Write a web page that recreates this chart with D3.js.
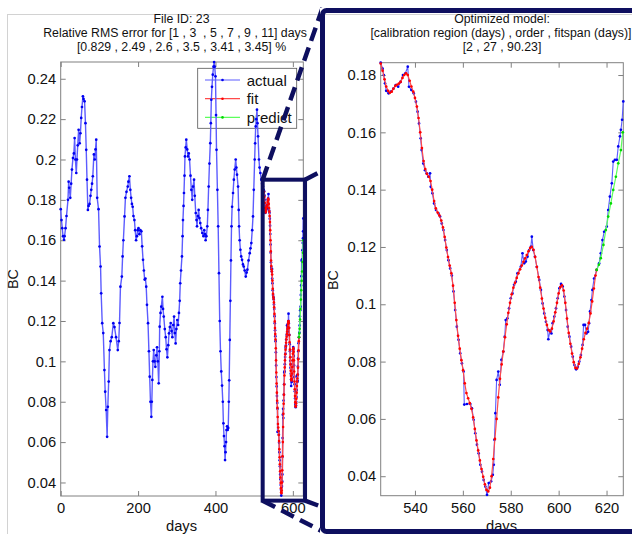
<!DOCTYPE html>
<html><head><meta charset="utf-8">
<script src="https://cdn.jsdelivr.net/npm/d3@7"></script>
<style>
html,body{margin:0;padding:0;background:#fff;}
svg{display:block;font-family:"Liberation Sans",Arial,Helvetica,sans-serif;}
text{white-space:pre;}
</style></head><body>
<svg id="c" width="632" height="534"></svg>
<script>
// ---------------- data ----------------
const actualDays = [0,2,4,6,8.5,10,12.5,15,18.8,20.5,22,24.8,27,29,31.7,34,36,38,40.3,42,44,46.3,49,51,53,55,57.4,59,61.7,64,66,68,70.3,72,74.6,77,79,81,83,85.8,88,90,91.8,94.3,97.8,100.4,103,104.6,107.3,110,113,115,117.5,120,121.8,124,126,129,132,136,139,143,147.5,150,152,154.4,158,160,162,165,167.3,170,173.3,175,177.6,180,182,184,186,188,190.5,192.5,194.8,197,199,201,203.4,206,208.5,210.5,212.8,215,217,219,221,223,225.7,228,230,232,234.3,235.5,236.9,238.5,240.4,242.5,244.6,247,249,251,253.3,255,255.8,258,260,262.8,264.5,266.3,269,271.4,273.5,275.7,278,280,282,284.3,286.5,288.6,291,293,295,297,299,301.3,303.5,305.6,307.5,309,311,313.4,315,316,317.5,318.6,320,321.2,323,324.6,327,329,331,333,335.5,337.6,340,342,344.6,346.5,349,351,352.3,354.5,356.5,358.5,360.8,363,366,369,371,373,374.6,376.5,378.9,380.5,382.4,384.5,386.7,388,389.3,391,393,395,396.5,398,400,401.5,402.7,405,407,409,411,413,415,417,419,420.5,422,423.5,424.8,426,427.4,428.5,430,431.5,433,434.5,435.5,437,438.5,440,441.5,443,445.4,447.5,449.7,452.3,454,455.7,458.4,460,461,462.5,464.4,466.5,468.7,471,473,475.5,478.3,480.5,482.5,485.5,488.5,490.5,492.7,495,497,499,501.3,502.5,504,505.5,507.3,508.5,510,512.4,514,516,518.4,520.5,522.7,524.5,
525.7,526.5,527,527.5,528,529,530,531,532,533,534,535,536,537,537.5,538.5,539.5,540.4,541.1,541.7,542.4,542.8,543.5,544.2,544.9,545.6,546.3,546.6,547.3,548,548.8,549.8,550.5,551.2,551.9,552.6,553.3,554,554.7,555.4,556.1,556.8,557.5,558.2,558.9,559.6,560.3,560.6,561.7,563.1,563.8,564.5,565.2,565.9,566.6,567.3,568,568.7,569.4,570.1,570.8,571.8,572.5,572.9,573.2,573.6,574.1,574.8,575.4,576.1,576.9,577.5,577.9,578.6,579.3,580,580.7,581.4,582.1,582.8,584.2,584.9,585.6,586.3,587,587.7,588.4,588.8,589.4,590.1,590.9,591.9,592.6,593.3,594,594.7,595.4,595.7,596.4,597,597.5,598.2,598.9,599.6,600.3,601,601.7,602.4,603.1,603.8,604.5,605.2,605.9,606.6,607.3,608,608.6,609.3,610,610.4,611,611.6,612.3,612.7,613.1,613.7,614.1,614.8,615.9,616.9,617.6,618.3,619,620.1,620.7,621.4,622.2,622.8,623.5,624.3,624.9,625.6,626,626.5,627];
const actualBC = [.1754,.170,.166,.162,.1602,.162,.166,.172,.180,.189,.186,.181,.188,.195,.2007,.203,.2106,.200,.1933,.200,.207,.2147,.208,.213,.2206,.226,.2313,.230,.2288,.218,.2048,.190,.175,.177,.178,.182,.185,.188,.1917,.2025,.200,.205,.2098,.181,.1754,.1569,.147,.1337,.1189,.114,.0957,.085,.0759,.0626,.0775,.090,.1056,.110,.112,.1189,.117,.112,.1056,.110,.119,.137,.142,.152,.160,.1718,.181,.184,.1866,.189,.1917,.185,.181,.178,.1766,.172,.170,.165,.160,.162,.165,.166,.163,.165,.1644,.157,.1503,.145,.1405,.141,.137,.128,.1189,.105,.0924,.080,.0725,.080,.0908,.100,.1056,.100,.0973,.103,.107,.100,.0891,.105,.1172,.124,.1271,.132,.126,.1222,.116,.112,.106,.102,.108,.1139,.117,.119,.115,.112,.118,.1222,.114,.1089,.116,.1205,.118,.124,.130,.1387,.145,.152,.162,.170,.177,.1834,.192,.2015,.206,.2098,.205,.2015,.203,.200,.192,.185,.180,.1866,.190,.182,.1735,.170,.1669,.172,.175,.171,.1685,.166,.1636,.162,.165,.163,.160,.162,.1669,.175,.1866,.198,.2081,.218,.2296,.236,.242,.246,.2483,.246,.2412,.222,.2048,.185,.1669,.1437,.120,.105,.095,.088,.080,.0693,.063,.058,.0511,.055,.060,.066,.0678,.066,.067,.080,.0906,.1106,.130,.150,.1669,.1766,.1834,.190,.195,.200,.196,.1925,.1866,.175,.1669,.160,.1553,.152,.1503,.148,.147,.145,.142,.144,.1454,.150,.1536,.156,.1586,.165,.1718,.185,.200,.208,.2164,.220,.2247,.218,.2115,.200,.196,.1933,.190,.188,.1866,.185,
.1843,.1822,.1800,.1771,.1745,.1736,.1742,.1753,.1765,.1759,.1776,.1800,.1806,.1829,.1759,.1748,.1736,.1707,.1672,.1631,.1579,.1538,.1491,.1468,.1457,.1445,.1457,.1410,.1387,.1352,.1329,.1317,.1306,.1282,.1259,.1224,.1189,.1154,.1125,.1100,.1045,.0980,.0922,.0876,.0829,.0794,.0765,.0650,.0652,.0652,.0637,.0597,.0550,.0510,.0480,.0440,.0416,.0387,.0364,.0335,.0376,.0382,.0405,.0440,.0527,.0620,.0736,.0765,.0719,.0806,.0835,.0887,.0945,.0951,.0986,.1021,.1038,.1068,.1079,.1108,.1131,.1178,.1143,.1149,.1166,.1189,.1200,.1236,.1189,.1166,.1131,.1085,.1050,.1003,.0968,.0939,.0910,.0878,.0908,.0898,.0934,.0957,.0986,.1021,.1056,.1071,.1062,.1027,.0980,.0922,.0887,.0852,.0817,.0788,.0773,.0782,.0800,.0823,.0858,.0928,.0928,.0898,.0904,.0934,.0975,.1015,.1050,.1090,.1120,.1143,.1178,.1224,.1253,.1271,.1329,.1376,.1422,.1498,.1504,.1504,.1551,.1586,.1609,.1644,.1708];

const fitDays = [525.7,526.5,527.3,528,528.8,529.5,530.3,531,531.8,532.5,533.3,534,534.8,535.5,536.3,537,537.8,538.5,539.3,540,540.8,541.5,542.2,542.9,543.6,544.3,545,545.8,546.5,547.2,548,548.7,549.5,550.2,551,551.7,552.4,553.1,553.8,554.5,555.2,555.9,556.6,557.3,558,558.7,559.4,560.1,560.8,561.5,562.2,562.9,563.6,564.3,565,565.7,566.4,567.1,567.8,568.5,569.2,569.9,570.6,571.3,572,572.7,573.4,574.1,574.8,575.5,576.2,576.9,577.6,578.3,579,579.7,580.4,581.1,581.8,582.5,583.2,583.9,584.6,585.3,586,586.7,587.4,588.1,588.8,589.5,590.2,590.9,591.6,592.3,593,593.7,594.4,595.1,595.8,596.5,597.2,597.9,598.6,599.3,600,600.7,601.4,602.1,602.8,603.5,604.2,604.9,605.6,606.3,607,607.7,608.4,609.1,609.8,610.5,611.2,611.9,612.6,613.3,614,614.7,615.4,615.9];
const fitBC = [.1840,.1815,.1785,.1760,.1745,.1738,.1742,.1752,.1762,.1766,.1770,.1776,.1790,.1800,.1806,.1800,.1780,.1760,.1742,.1720,.1690,.1650,.1600,.1545,.1500,.1472,.1455,.1445,.1430,.1400,.1360,.1335,.1320,.1310,.1292,.1268,.1235,.1198,.1165,.1135,.1108,.1065,.1005,.0945,.0890,.0845,.0805,.0770,.0724,.0690,.0672,.0655,.0635,.0605,.0565,.0525,.0490,.0455,.0425,.0398,.0372,.0352,.0347,.0360,.0400,.0460,.0530,.0600,.0675,.0740,.0790,.0835,.0885,.0930,.0970,.1005,.1035,.1058,.1075,.1092,.1108,.1122,.1135,.1148,.1160,.1172,.1185,.1196,.1200,.1190,.1165,.1130,.1095,.1058,.1020,.0985,.0953,.0928,.0910,.0905,.0915,.0940,.0972,.1005,.1038,.1060,.1066,.1048,.1005,.0950,.0900,.0862,.0828,.0798,.0778,.0776,.0792,.0815,.0845,.0878,.0900,.0915,.0935,.0968,.1010,.1055,.1100,.1120];

const predictDays = [615.9,616.8,617.6,618.7,619.7,620.7,621.8,622.8,623.9,624.9,626,626.8];
const predictBC = [.1120,.1138,.1161,.1207,.1259,.1306,.1352,.1399,.1445,.1492,.1538,.1600];

const mainXTicks = [0,200,400,600];
const mainYTicks = [0.04,0.06,0.08,0.1,0.12,0.14,0.16,0.18,0.2,0.22,0.24];
const insetXTicks = [540,560,580,600,620];
const insetYTicks = [0.04,0.06,0.08,0.1,0.12,0.14,0.16,0.18];
const zoomBoxDays = [522, 631.5];
const zoomBoxBC = [0.031, 0.19];

const mainTitle = ["File ID: 23", "Relative RMS error for [1 , 3  , 5 , 7 , 9 , 11] days", "[0.829 , 2.49 , 2.6 , 3.5 , 3.41 , 3.45] %"];
const insetTitle = ["Optimized model:", "[calibration region (days) , order , fitspan (days)]", "[2 , 27 , 90.23]"];
const legendLabels = ["actual", "fit", "predict"];

// ---------------- drawing ----------------
const svg = d3.select('#c');
const FONT = '"Liberation Sans",Arial,Helvetica,sans-serif';
const navy = '#0e0f5f';
const axisGray = '#808080';
const colors = {
  actual: {line:'#5c5cff', dot:'#0000f0'},
  fit: {line:'#ff4a4a', dot:'#ff0000'},
  predict: {line:'#5cff5c', dot:'#00d800'}
};

// left figure light frame
svg.append('rect').attr('x',7.5).attr('y',14.5).attr('width',360).attr('height',560)
  .attr('fill','none').attr('stroke','#d2d2d2');

const mainX = d3.scaleLinear().domain([0,627]).range([60.7,303.3]);
const mainY = d3.scaleLinear().domain([0.0333,0.2483]).range([496,62]);
const insX = d3.scaleLinear().domain([525.7,627]).range([380.7,623.3]);
const insY = d3.scaleLinear().domain([0.0332,0.1843]).range([495.7,62.7]);

const fmt = d => String(+(+d).toFixed(2));

function axes(g, xs, ys, xt, yt) {
  const [x0,x1] = xs.range(), [y0,y1] = ys.range();
  g.append('g').attr('transform',`translate(${x0},0)`)
    .call(d3.axisLeft(ys).tickValues(yt).tickSize(-5).tickPadding(4.5).tickFormat(fmt));
  g.append('g').attr('transform',`translate(${x1},0)`)
    .call(d3.axisRight(ys).tickValues(yt).tickSize(-5).tickFormat(''));
  g.append('g').attr('transform',`translate(0,${y0})`)
    .call(d3.axisBottom(xs).tickValues(xt).tickSize(-5).tickPadding(7).tickFormat(fmt));
  g.append('g').attr('transform',`translate(0,${y1})`)
    .call(d3.axisTop(xs).tickValues(xt).tickSize(-5).tickFormat(''));
  g.selectAll('.domain').remove();
  g.selectAll('.tick line').attr('stroke',axisGray);
  g.selectAll('.tick text').attr('font-size',14.7).attr('font-family',FONT).attr('fill','#111');
  g.append('rect').attr('x',x0).attr('y',y1).attr('width',x1-x0).attr('height',y0-y1)
    .attr('fill','none').attr('stroke',axisGray);
}

function series(g, xs, ys, days, vals, c, lw, r) {
  const line = d3.line().x((d,i)=>xs(days[i])).y(d=>ys(d));
  g.append('path').datum(vals).attr('d',line).attr('fill','none')
    .attr('stroke',c.line).attr('stroke-width',lw).attr('stroke-linejoin','round');
  g.append('g').selectAll('circle').data(vals).join('circle')
    .attr('cx',(d,i)=>xs(days[i])).attr('cy',d=>ys(d)).attr('r',r).attr('fill',c.dot);
}

function titles(lines, xs, y0) {
  lines.forEach((t,i)=>{
    svg.append('text').attr('x',xs[i]).attr('y',y0 + i*13.9).attr('text-anchor','middle')
      .attr('font-size',12.3).attr('font-family',FONT).attr('fill','#111').text(t);
  });
}

// ---- main panel ----
const gMain = svg.append('g');
axes(gMain, mainX, mainY, mainXTicks, mainYTicks);
titles(mainTitle, [181.5, 175, 181.5], 23.3);
gMain.append('text').attr('x',181.5).attr('y',530.5).attr('text-anchor','middle')
  .attr('font-size',14.7).attr('font-family',FONT).attr('fill','#111').text('days');
gMain.append('text').attr('transform','translate(18.3,279) rotate(-90)').attr('text-anchor','middle')
  .attr('font-size',14.4).attr('font-family',FONT).attr('fill','#111').text('BC');

// legend (drawn below the data)
const leg = gMain.append('g');
leg.append('rect').attr('x',197.7).attr('y',68.3).attr('width',99).attr('height',60)
  .attr('fill','#fff').attr('stroke','#555').attr('stroke-width',0.8);
[colors.actual, colors.fit, colors.predict].forEach((c,i)=>{
  const yy = 80 + i*18.7;
  leg.append('line').attr('x1',205).attr('x2',240).attr('y1',yy).attr('y2',yy).attr('stroke',c.line).attr('stroke-width',1.2);
  leg.append('circle').attr('cx',222.5).attr('cy',yy).attr('r',1.3).attr('fill',c.dot);
  leg.append('text').attr('x',246.7).attr('y',yy+5.5).attr('font-size',15).attr('font-family',FONT)
    .attr('fill','#111').text(legendLabels[i]);
});

series(gMain, mainX, mainY, actualDays, actualBC, colors.actual, 1.4, 1.35);
series(gMain, mainX, mainY, fitDays, fitBC, colors.fit, 1.4, 1.3);
series(gMain, mainX, mainY, predictDays, predictBC, colors.predict, 1.4, 1.3);

// zoom box
const bx0 = mainX(zoomBoxDays[0]), bx1 = mainX(zoomBoxDays[1]);
const by0 = mainY(zoomBoxBC[1]), by1 = mainY(zoomBoxBC[0]);
gMain.append('rect').attr('x',bx0).attr('y',by0).attr('width',bx1-bx0).attr('height',by1-by0)
  .attr('fill','none').attr('stroke',navy).attr('stroke-width',4);

// connector lines (partly hidden by the inset)
const conn = [
  [bx0,by0, 322.5,8],
  [bx0,by1, 322.5,531.5],
  [bx1,by0, 632,10.5],
  [bx1,by1, 640,625]
];
conn.forEach(c=>{
  svg.append('line').attr('x1',c[0]).attr('y1',c[1]).attr('x2',c[2]).attr('y2',c[3])
    .attr('stroke',navy).attr('stroke-width',4.5).attr('stroke-dasharray','14,7');
});

// ---- inset panel ----
svg.append('rect').attr('x',320).attr('y',8).attr('width',320).attr('height',530).attr('fill','#fff');
svg.append('line').attr('x1',325).attr('x2',632).attr('y1',14.5).attr('y2',14.5).attr('stroke','#d2d2d2');
const gIns = svg.append('g');
axes(gIns, insX, insY, insetXTicks, insetYTicks);
titles(insetTitle, [502, 501, 502], 23.3);
gIns.append('text').attr('x',501.5).attr('y',530.5).attr('text-anchor','middle')
  .attr('font-size',14.7).attr('font-family',FONT).attr('fill','#111').text('days');
gIns.append('text').attr('transform','translate(338.3,280) rotate(-90)').attr('text-anchor','middle')
  .attr('font-size',14.4).attr('font-family',FONT).attr('fill','#111').text('BC');
const insActDays = actualDays.filter(d=>d>=525.7);
const insActBC = actualBC.filter((v,i)=>actualDays[i]>=525.7);
series(gIns, insX, insY, insActDays, insActBC, colors.actual, 1.1, 1.35);
series(gIns, insX, insY, fitDays, fitBC, colors.fit, 1.2, 1.35);
series(gIns, insX, insY, predictDays, predictBC, colors.predict, 1.2, 1.35);

// inset frame
svg.append('rect').attr('x',322.5).attr('y',10.5).attr('width',320).attr('height',521)
  .attr('rx',4).attr('fill','none').attr('stroke',navy).attr('stroke-width',5);
</script>
</body></html>
